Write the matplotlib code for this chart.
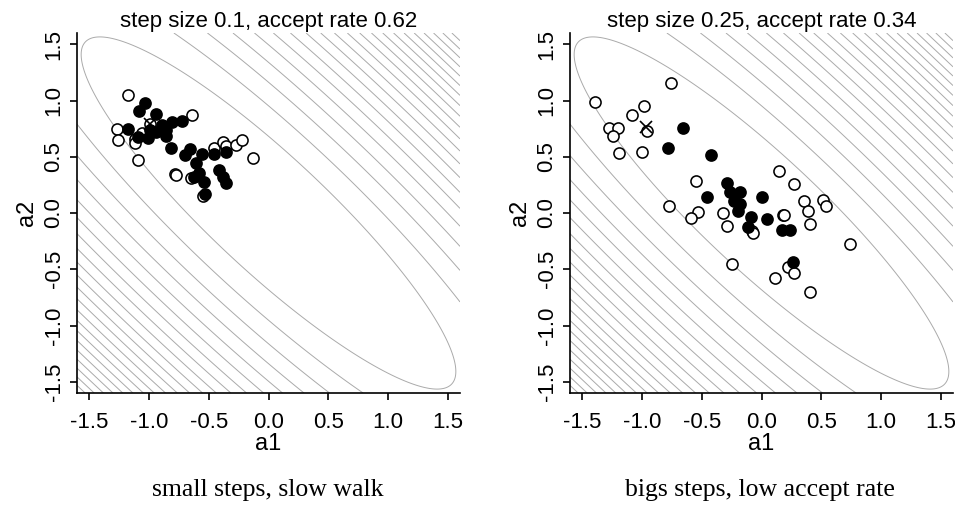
import numpy as np
import matplotlib
matplotlib.use("Agg")
import matplotlib.pyplot as plt

plt.rcParams['font.family'] = ['Liberation Sans', 'DejaVu Sans']

# target: 2D gaussian, sd 1, strong negative correlation
RHO = -0.9
# contour levels in squared mahalanobis distance
LEVELS = [2.45, 4.78, 7.11, 9.44, 11.77, 14.10, 16.43, 18.76, 21.09, 23.42,
          25.75, 28.08, 30.41, 32.74, 35.07, 37.40, 39.73, 42.06, 44.39,
          46.72, 49.05, 51.38, 53.71]

TICKS = [-1.5, -1.0, -0.5, 0.0, 0.5, 1.0, 1.5]
TICK_LABELS = ['-1.5', '-1.0', '-0.5', '0.0', '0.5', '1.0', '1.5']

# left panel: step size 0.1
left_start = (-0.99, 0.79)
left_acc_a1 = [-1.036, -1.084, -0.944, -1.174, -1.092, -1.006, -0.986, -0.944,
               -0.888, -0.860, -0.810, -0.720, -0.854, -0.818, -0.697, -0.655,
               -0.557, -0.602, -0.580, -0.622, -0.538, -0.529, -0.454, -0.356,
               -0.412, -0.384, -0.356]
left_acc_a2 = [0.975, 0.904, 0.880, 0.749, 0.673, 0.664, 0.738, 0.723,
               0.782, 0.738, 0.812, 0.820, 0.684, 0.581, 0.516, 0.569,
               0.524, 0.441, 0.358, 0.317, 0.278, 0.169, 0.524, 0.545,
               0.382, 0.323, 0.264]
left_rej_a1 = [-1.174, -0.641, -1.266, -1.258, -1.118, -1.112, -0.994, -1.092,
               -0.454, -0.384, -0.356, -0.271, -0.221, -0.126, -0.780, -0.770,
               -0.650, -0.546, -1.056]
left_rej_a2 = [1.049, 0.868, 0.747, 0.649, 0.655, 0.625, 0.788, 0.468,
               0.575, 0.628, 0.598, 0.604, 0.646, 0.489, 0.347, 0.340,
               0.314, 0.151, 0.708]

# right panel: step size 0.25
right_start = (-0.966, 0.767)
right_acc_a1 = [-0.658, -0.779, -0.420, -0.286, -0.266, -0.176, -0.456, 0.000,
                -0.230, -0.182, -0.196, -0.084, -0.112, 0.048, 0.174, 0.241,
                0.266]
right_acc_a2 = [0.753, 0.581, 0.516, 0.270, 0.190, 0.190, 0.145, 0.145,
                0.110, 0.077, 0.018, -0.039, -0.122, -0.053, -0.151, -0.151,
                -0.433]
right_rej_a1 = [-0.756, -1.387, -0.980, -1.084, -1.275, -1.199, -1.241, -0.958,
                -1.190, -1.000, -0.546, 0.145, 0.275, 0.355, 0.515, 0.538,
                0.389, 0.406, -0.532, -0.588, -0.325, -0.286, 0.182, 0.192,
                -0.078, -0.073, 0.742, -0.246, 0.224, 0.275, 0.112, 0.406,
                -0.776]
right_rej_a2 = [1.153, 0.990, 0.954, 0.871, 0.759, 0.759, 0.688, 0.729,
                0.530, 0.542, 0.287, 0.370, 0.258, 0.104, 0.116, 0.065,
                0.018, -0.095, 0.012, -0.042, 0.003, -0.116, -0.018, -0.022,
                -0.157, -0.181, -0.276, -0.456, -0.477, -0.530, -0.580, -0.699,
                0.062]

panels = [
    ('step size 0.1, accept rate 0.62', 'small steps, slow walk',
     left_start, left_acc_a1, left_acc_a2, left_rej_a1, left_rej_a2),
    ('step size 0.25, accept rate 0.34', 'bigs steps, low accept rate',
     right_start, right_acc_a1, right_acc_a2, right_rej_a1, right_rej_a2),
]

fig = plt.figure(figsize=(9.55, 5.12), dpi=100)
boxes = [[77 / 955, 1 - 393 / 512, 383 / 955, 360 / 512],
         [570 / 955, 1 - 393 / 512, 383 / 955, 360 / 512]]
caption_x = [268 / 955, 760 / 955]

g = np.linspace(-1.6, 1.6, 401)
X, Y = np.meshgrid(g, g)
D2 = (X**2 - 2 * RHO * X * Y + Y**2) / (1 - RHO**2)

for i, (title, caption, start, acc1, acc2, rej1, rej2) in enumerate(panels):
    ax = fig.add_axes(boxes[i])
    ax.contour(X, Y, D2, levels=LEVELS, colors='#aaaaaa', linewidths=0.7)
    ax.plot(rej1, rej2, 'o', mfc='white', mec='black', ms=8, mew=1.15)
    ax.plot(acc1, acc2, 'o', mfc='black', mec='black', ms=8, mew=1.15)
    ax.plot([start[0]], [start[1]], 'x', color='black', ms=8.5, mew=1.2)

    ax.set_xlim(-1.6, 1.6)
    ax.set_ylim(-1.6, 1.6)
    ax.spines['top'].set_visible(False)
    ax.spines['right'].set_visible(False)
    for s in ('left', 'bottom'):
        ax.spines[s].set_linewidth(1.2)
    ax.set_xticks(TICKS)
    ax.set_xticklabels(TICK_LABELS, fontsize=16)
    ax.set_yticks(TICKS)
    ax.set_yticklabels(TICK_LABELS, fontsize=16, rotation=90, va='center')
    ax.tick_params(length=5, width=1.2)
    ax.tick_params(axis='x', pad=9)
    ax.tick_params(axis='y', pad=4)
    ax.set_xlabel('a1', fontsize=17, labelpad=0)
    ax.set_ylabel('a2', fontsize=17, labelpad=4)
    ax.set_title(title, fontsize=16, pad=4)

    fig.text(caption_x[i], 1 - 490 / 512, caption, ha='center', va='center',
             fontsize=18.5, family=['Liberation Serif', 'DejaVu Serif'])

fig.savefig('out.png', dpi=100)
